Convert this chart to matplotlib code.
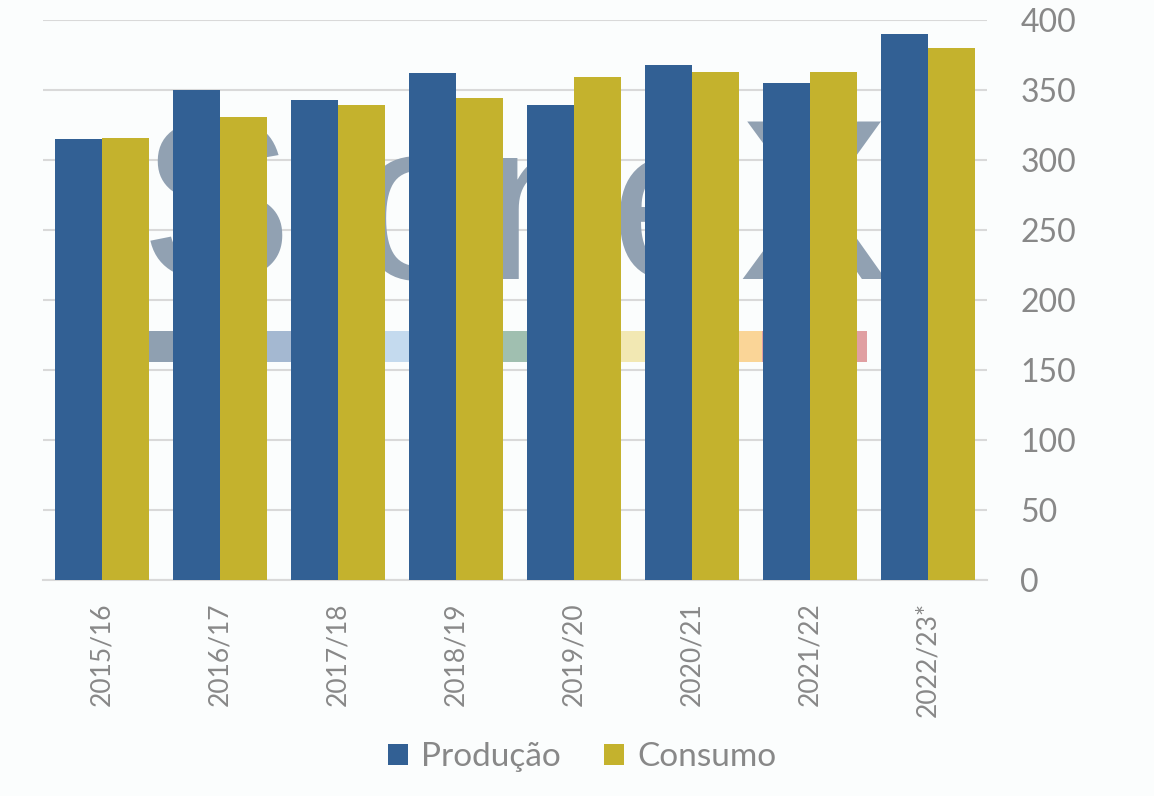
import matplotlib.pyplot as plt
import matplotlib.patches as mpatches
import numpy as np

seasons = ["2015/16", "2016/17", "2017/18", "2018/19", "2019/20", "2020/21", "2021/22", "2022/23*"]
producao = [315, 350, 343, 362, 339, 368, 355, 390]
consumo = [316, 331, 339, 344, 359, 363, 363, 380]
y_ticks = [0, 50, 100, 150, 200, 250, 300, 350, 400]

BLUE = "#326094"
GOLD = "#c4b22d"
TEXT = "#888888"
GRID = "#d9d9d9"
BG = "#fbfdfd"

plt.rcParams["font.family"] = ["Lato", "DejaVu Sans"]

fig = plt.figure(figsize=(11.54, 7.96), dpi=100, facecolor=BG)
ax = fig.add_axes([43 / 1154, 216 / 796, 944 / 1154, 560 / 796], facecolor=BG)

# faint logo watermark: above the grid, under the bars
ax.text(140 / 1154, 1 - 279 / 796, "StoneX", fontsize=165, color="#91a1b2",
        family="Liberation Sans", ha="left", va="baseline", zorder=1,
        transform=fig.transFigure)
strip = ["#8fa0b1", "#a4b8d1", "#c4daee", "#a0bfb0", "#f2e8b3", "#fad597", "#e09fa2"]
seg_w = (867 - 130) / len(strip)
for i, c in enumerate(strip):
    ax.add_patch(mpatches.Rectangle(((130 + i * seg_w) / 1154, (796 - 362) / 796),
                                    seg_w / 1154, 31 / 796, transform=fig.transFigure,
                                    facecolor=c, edgecolor="none", zorder=1, clip_on=False))

x = np.arange(len(seasons))
w = 0.4
ax.bar(x - w / 2, producao, w, color=BLUE, label="Produção", zorder=3)
ax.bar(x + w / 2, consumo, w, color=GOLD, label="Consumo", zorder=3)

ax.set_xlim(-0.5, len(seasons) - 0.5)
ax.set_ylim(0, 400)
ax.set_yticks(y_ticks)
ax.yaxis.tick_right()
ax.tick_params(axis="y", length=0, pad=24, labelsize=23, labelcolor=TEXT)
ax.set_xticks(x)
ax.set_xticklabels(seasons, rotation=90)
ax.tick_params(axis="x", length=0, pad=16, labelsize=19, labelcolor=TEXT)
ax.grid(axis="y", color=GRID, linewidth=1.5, zorder=0)
ax.set_axisbelow(True)
for side in ["top", "left", "right"]:
    ax.spines[side].set_visible(False)
ax.spines["bottom"].set_color(GRID)
ax.spines["bottom"].set_linewidth(1.5)

fig.legend(loc="center", bbox_to_anchor=(582 / 1154, 1 - 757 / 796), ncol=2,
           frameon=False, fontsize=24, labelcolor=TEXT, handlelength=0.6,
           handleheight=0.6, handletextpad=0.4, columnspacing=1.3)

fig.savefig("out.png", dpi=100, facecolor=BG)
